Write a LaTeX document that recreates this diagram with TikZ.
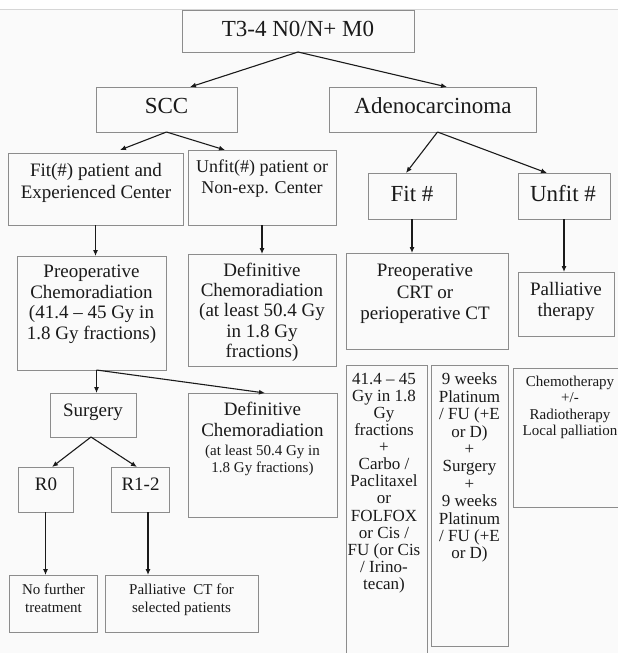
\documentclass[tikz,border=0pt]{standalone}
\usepackage{fontspec}
\setmainfont{Liberation Serif}
\usetikzlibrary{arrows.meta,calc}

\definecolor{paper}{HTML}{FAFAFA}
\definecolor{frame}{HTML}{8C8C8C}
\definecolor{ink}{HTML}{1A1A1A}
\definecolor{rulegray}{HTML}{D6D6D6}

\tikzset{
  box/.style={draw=frame, line width=0.9pt, inner sep=0pt, outer sep=0pt},
  arr/.style={draw=ink, line width=1.1pt, -{Latex[length=6pt,width=5pt]}},
  lbl/.style={inner sep=0pt, outer sep=0pt, align=center, text=ink},
  fs/.style 2 args={font=\fontsize{#1}{#2}\selectfont},
}

% box given by name, left, top, right, bottom (y grows downwards)
\newcommand{\flowbox}[5]{%
  \node[box, anchor=north west, minimum width={#4-#2}, minimum height={#5-#3}] (#1) at (#2,#3) {};}

\begin{document}
\begin{tikzpicture}[x=1pt,y=-1pt]
\useasboundingbox (0,0) rectangle (618,653);
\fill[paper] (0,0) rectangle (618,653);
\fill[white] (0,0) rectangle (618,9);
\draw[rulegray, line width=0.8pt] (0,9.5) -- (618,9.5);
\clip (0,0) rectangle (618,653);

% ---- boxes ----
\flowbox{top}{182}{10}{414}{52}
\flowbox{scc}{96}{87}{237}{132}
\flowbox{adeno}{329}{87}{536}{132}
\flowbox{fitp}{8}{153}{183}{225}
\flowbox{unfitp}{188}{150}{336}{225}
\flowbox{fitn}{368}{173}{456}{219}
\flowbox{unfitn}{518}{173}{610}{219}
\flowbox{preop}{17}{256}{166}{370}
\flowbox{def}{188}{254}{336}{366}
\flowbox{preopcrt}{346}{253}{508}{349}
\flowbox{pall}{518}{272}{614}{336}
\flowbox{surgery}{50}{393}{136}{437}
\flowbox{def2}{188}{393}{337}{517}
\flowbox{rzero}{18}{467}{73}{512}
\flowbox{rone}{111}{467}{169}{512}
\flowbox{nofurther}{9}{575}{97}{632}
\flowbox{pallct}{105}{575}{258}{632}
\flowbox{regimen}{346}{365}{427}{700}
\flowbox{periop}{431}{365}{508}{646}
\flowbox{chemo}{513}{368}{628}{507}

% ---- single-line labels ----
\node[lbl, fs={23}{26}, anchor=base] (top-t) at (298,36) {T3-4 N0/N+ M0};
\node[lbl, fs={23}{26}, anchor=base] (scc-t) at (166.5,113) {SCC};
\node[lbl, fs={23}{26}, anchor=base] (adeno-t) at (433,113) {Adenocarcinoma};
\node[lbl, fs={23}{26}, anchor=base] (fitn-t) at (412,201) {Fit \#};
\node[lbl, fs={23}{26}, anchor=base] (unfitn-t) at (563,201) {Unfit \#};
\node[lbl, fs={19}{21}, anchor=base] (surgery-t) at (93,416) {Surgery};
\node[lbl, fs={19}{21}, anchor=base] (rzero-t) at (46,490.5) {R0};
\node[lbl, fs={19}{21}, anchor=base] (rone-t) at (140.5,490.5) {R1-2};

% ---- multi-line labels ----
\node[lbl, fs={19}{22}, anchor=north] (fitp-t) at (96,163)
  {Fit(\#) patient and\\Experienced Center};
\node[lbl, fs={18}{21}, anchor=north] (unfitp-t) at (262,160)
  {Unfit(\#) patient or\\Non-exp. Center};
\node[lbl, fs={19}{20.7}, anchor=north] (preop-t) at (91.5,265)
  {Preoperative\\Chemoradiation\\(41.4 – 45 Gy in\\1.8 Gy fractions)};
\node[lbl, fs={19}{20.3}, anchor=north] (def-t) at (262,263)
  {Definitive\\Chemoradiation\\(at least 50.4 Gy\\in 1.8 Gy\\fractions)};
\node[lbl, fs={19}{21.6}, anchor=north] (preopcrt-t) at (425,264)
  {Preoperative\\CRT or\\perioperative CT};
\node[lbl, fs={19}{21.6}, anchor=north] (pall-t) at (566,282)
  {Palliative\\therapy};
\node[lbl, fs={19}{21}, anchor=north] (def2-t) at (262.5,402)
  {Definitive\\Chemoradiation};
\node[lbl, fs={15}{17}, anchor=north] (def2-d) at (262.5,445)
  {(at least 50.4 Gy in\\1.8 Gy fractions)};
\node[lbl, fs={15}{18}, anchor=north] (nofurther-t) at (53.5,584)
  {No further\\treatment};
\node[lbl, fs={15}{18}, anchor=north] (pallct-t) at (181.5,584)
  {Palliative\ \ CT for\\selected patients};
\node[lbl, fs={17}{17.1}, anchor=north] (regimen-t) at (384,373)
  {41.4 – 45\\Gy in 1.8\\Gy\\fractions\\+\\Carbo /\\Paclitaxel\\or\\FOLFOX\\or Cis /\\FU (or Cis\\/ Irino-\\tecan)};
\node[lbl, fs={17}{17.4}, anchor=north] (periop-t) at (469.5,373)
  {9 weeks\\Platinum\\/ FU (+E\\or D)\\+\\Surgery\\+\\9 weeks\\Platinum\\/ FU (+E\\or D)};
\node[lbl, fs={15}{16.3}, anchor=north] (chemo-t) at (570,376)
  {Chemotherapy\\+/-\\Radiotherapy\\Local palliation};

% ---- connectors ----
\draw[arr] (top.south) -- ($(scc.north west)+(94,0)$);
\draw[arr] (top.south) -- ($(adeno.north west)+(118,0)$);
\draw[arr] (scc.south) -- ($(fitp.north west)+(112,-3)$);
\draw[arr] (scc.south) -- ($(unfitp.north west)+(37,0)$);
\draw[arr] ($(adeno.south)+(5,0)$) -- ($(fitn.north west)+(38,0)$);
\draw[arr] ($(adeno.south)+(5,0)$) -- ($(unfitn.north west)+(29,0)$);
\draw[arr] (fitp.south) -- (fitp.south |- preop.north);
\draw[arr] (unfitp.south) -- (unfitp.south |- def.north);
\draw[arr] (fitn.south) -- (fitn.south |- preopcrt.north);
\draw[arr] (unfitn.south) -- (unfitn.south |- pall.north);
\coordinate (split) at ($(preop.south)+(5,0)$);
\draw[arr] (split) -- (split |- surgery.north);
\draw[arr] (split) -- ($(def2.north)+(2.5,0)$);
\draw[arr] ($(surgery.south)+(-2,0)$) -- ($(rzero.north west)+(34,0)$);
\draw[arr] ($(surgery.south)+(-2,0)$) -- ($(rone.north west)+(26,0)$);
\draw[arr] (rzero.south) -- (rzero.south |- nofurther.north);
\coordinate (rone-out) at ($(rone.south)+(8,0)$);
\draw[arr] (rone-out) -- (rone-out |- pallct.north);
\end{tikzpicture}
\end{document}
